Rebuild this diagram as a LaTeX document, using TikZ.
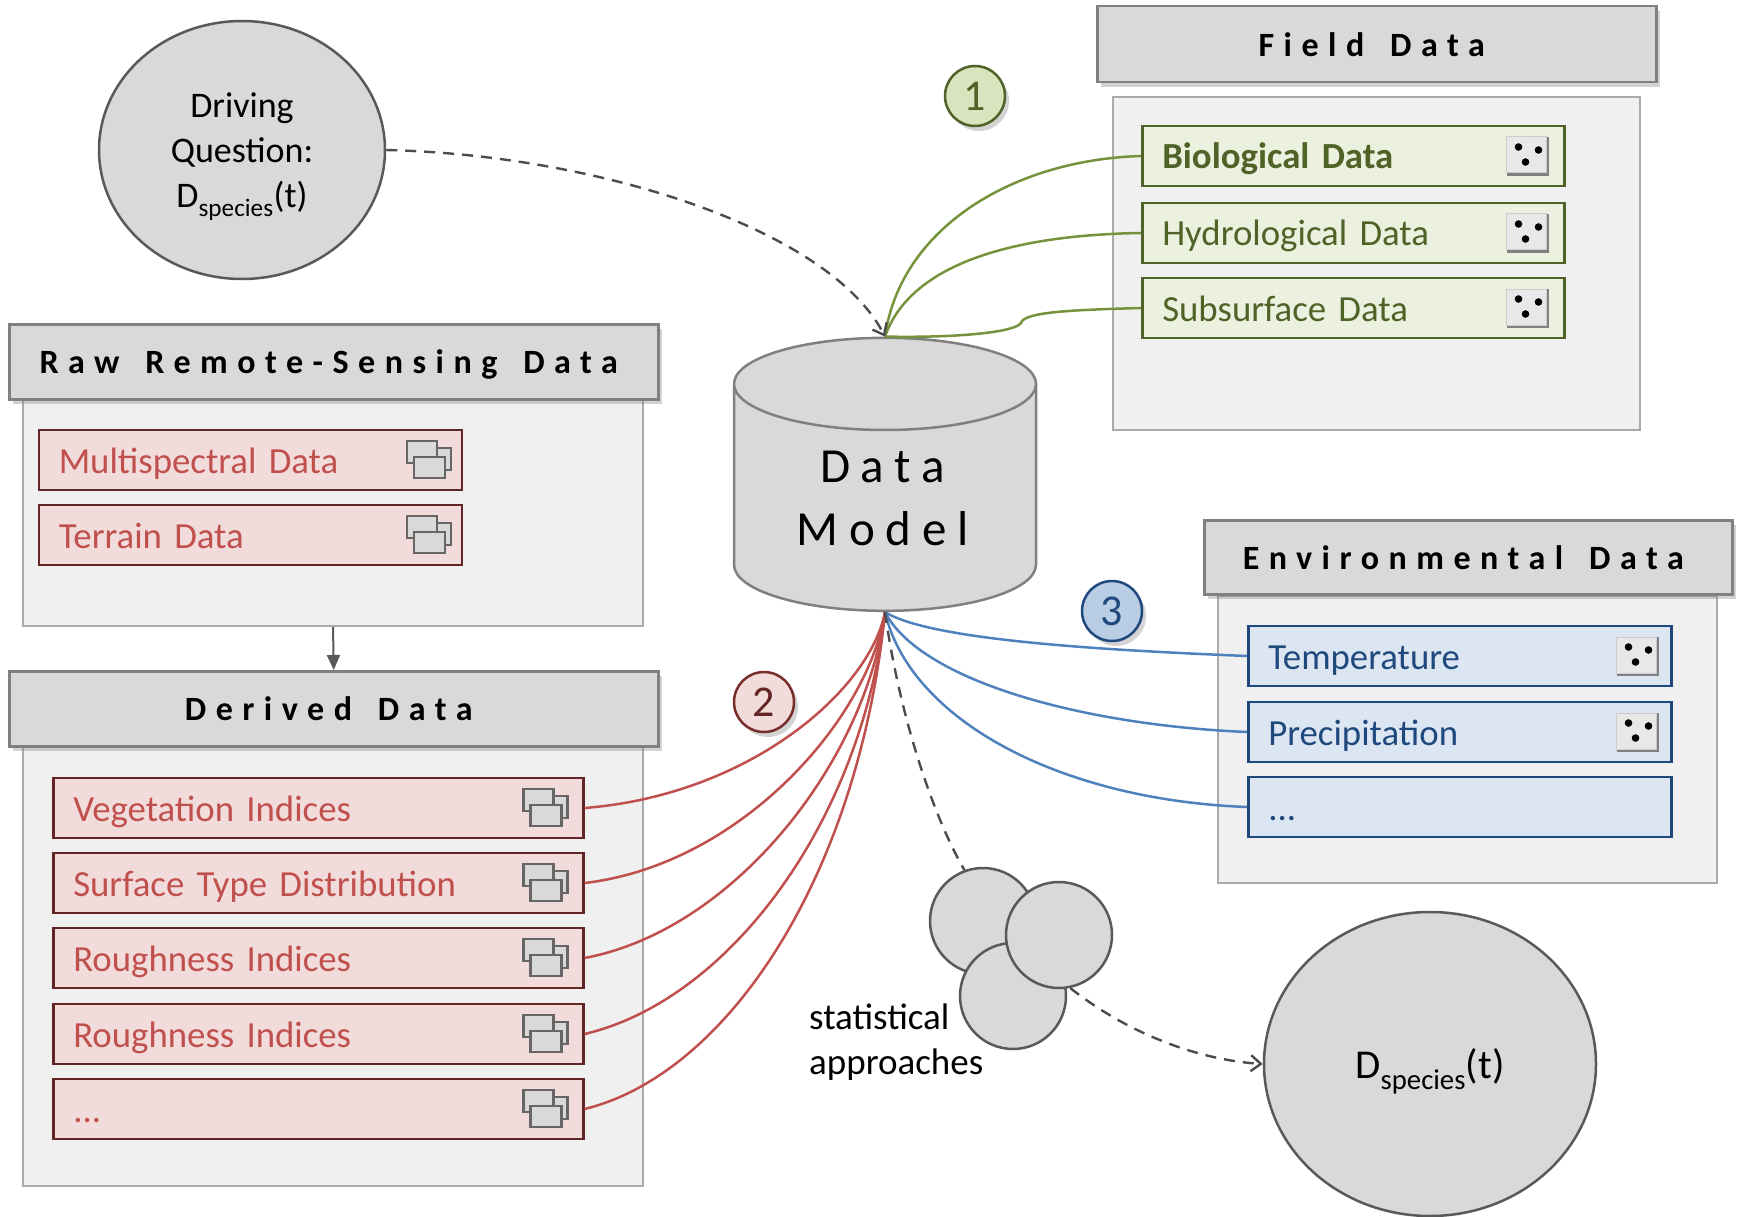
\documentclass[tikz,border=0pt]{standalone}
\usepackage{fontspec}
\setmainfont[WordSpace=0.4]{Carlito}
\newfontfamily\headfont[LetterSpace=28,WordSpace=1.5]{Carlito}
\newfontfamily\modelfont[LetterSpace=22]{Carlito}
\usepackage{tikz}
\usetikzlibrary{positioning, shapes.geometric, shadows, arrows.meta}

\definecolor{greenfill}{HTML}{EBF1DE}
\definecolor{greendark}{HTML}{4F6228}
\definecolor{greenline}{HTML}{76923C}
\definecolor{greenbadge}{HTML}{D7E4BD}
\definecolor{redfill}{HTML}{F2DCDB}
\definecolor{reddark}{HTML}{632523}
\definecolor{redline}{HTML}{C0504D}
\definecolor{bluefill}{HTML}{DCE6F2}
\definecolor{bluedark}{HTML}{1F497D}
\definecolor{blueline}{HTML}{4F81BD}
\definecolor{bluebadge}{HTML}{B9CDE5}
\definecolor{headgray}{HTML}{D9D9D9}
\definecolor{edgegray}{HTML}{595959}

\newcommand{\moredots}{...}

\tikzset{
  panel/.style={draw=black!33,fill=black!6,line width=2pt,anchor=north west},
  header/.style={draw=black!50,fill=headgray,line width=2.5pt,anchor=north west,text depth=0pt,
    drop shadow={shadow xshift=4pt,shadow yshift=-5pt,opacity=.35},
    font=\headfont\bfseries\fontsize{34}{40}\selectfont},
  item/.style={line width=2.5pt,anchor=west,minimum height=60pt,inner xsep=20pt,inner ysep=0pt,
    align=left,text height=26pt,text depth=0pt,font=\fontsize{36.8}{40}\selectfont},
  greenitem/.style={item,draw=greendark,fill=greenfill,text=greendark},
  reditem/.style={item,draw=reddark,fill=redfill,text=redline},
  blueitem/.style={item,draw=bluedark,fill=bluefill,text=bluedark},
  badge/.style={circle,line width=2.5pt,minimum size=60pt,inner sep=0pt,
    drop shadow={shadow xshift=4pt,shadow yshift=-5pt,opacity=.35},
    font=\fontsize{44}{44}\selectfont},
  bubble/.style={ellipse,draw=edgegray,fill=headgray,line width=2.5pt,inner sep=0pt,
    align=center,font=\fontsize{36}{45}\selectfont},
  stat/.style={circle,draw=edgegray,fill=headgray,line width=2.5pt,minimum size=106pt,inner sep=0pt},
  dashlink/.style={dash pattern=on 11pt off 8pt,draw=black!70,line width=2.4pt},
  link/.style={line width=2.5pt},
  stackicon/.pic={
    \draw[draw=black!60,fill=headgray,line width=2.5pt] (-6,-12) rectangle (22,10);
    \draw[draw=black!60,fill=headgray,line width=2.5pt] (-22,-19) rectangle (8,3);
    \draw[draw=black!60,fill=headgray,line width=2.5pt] (-15,-3) rectangle (16,18);
  },
  diceicon/.pic={
    \fill[black!50] (-21,-19) rectangle (21,20);
    \draw[black!20,fill=black!9,line width=1pt] (-21,-19) rectangle (19,17);
    \fill[black] (-9,-9) circle (3.8) (11,-6) circle (3.8) (-2,6) circle (3.8);
  }
}

\begin{document}
\begin{tikzpicture}[x=1pt,y=-1pt]
  \useasboundingbox (0,0) rectangle (1738,1217);

  % panels
  \node[panel,minimum width=527pt,minimum height=333pt] (fieldpanel) at (1112,96) {};
  \node[panel,minimum width=620pt,minimum height=226pt] (rawpanel) at (22,399) {};
  \node[panel,minimum width=620pt,minimum height=439pt] (derivedpanel) at (22,746) {};
  \node[panel,minimum width=499pt,minimum height=287pt] (envpanel) at (1217,595) {};

  % headers
  \node[header,minimum width=559pt,minimum height=76pt] (fieldhead) at (1096,5) {Field Data\kern10pt};
  \node[header,minimum width=649pt,minimum height=75pt] (rawhead) at (8,323) {Raw Remote-Sensing Data\kern10pt};
  \node[header,minimum width=649pt,minimum height=75pt] (derivedhead) at (8,670) {Derived Data\kern10pt};
  \node[header,minimum width=528pt,minimum height=74pt] (envhead) at (1203,519) {Environmental Data\kern10pt};

  \draw[draw=black!65,line width=2pt,-{Triangle[length=15pt,width=13pt]}] (rawpanel.south) -- (derivedhead.north);

  % field data
  \node[greenitem,text width=382pt] (bio) at (1141,156) {\bfseries Biological Data};
  \node[greenitem,text width=382pt] (hydro) at (1141,233) {Hydrological Data};
  \node[greenitem,text width=382pt] (subsurf) at (1141,308) {Subsurface Data};
  \foreach \nm in {bio,hydro,subsurf}{\pic at ([xshift=-38pt]\nm.east) {diceicon};}

  % remote sensing
  \node[reditem,text width=383pt] (multi) at (37.5,460) {Multispectral Data};
  \node[reditem,text width=383pt] (terrain) at (37.5,535) {Terrain Data};
  \foreach \nm in {multi,terrain}{\pic at ([xshift=-34pt]\nm.east) {stackicon};}

  % derived
  \foreach \nm/\yc/\txt in {veg/808/Vegetation Indices,surf/883/Surface Type Distribution,
      rougha/958/Roughness Indices,roughb/1034/Roughness Indices,dermore/1109/\moredots}{
    \node[reditem,text width=490pt] (\nm) at (52,\yc) {\txt};
    \pic at ([xshift=-39pt]\nm.east) {stackicon};
  }

  % environmental
  \foreach \nm/\yc/\txt in {temp/656/Temperature,precip/732/Precipitation,envmore/807/\moredots}{
    \node[blueitem,text width=383pt] (\nm) at (1247,\yc) {\txt};
  }
  \foreach \nm in {temp,precip}{\pic at ([xshift=-35pt]\nm.east) {diceicon};}

  % model and circles
  \node[cylinder,shape border rotate=90,aspect=0.52,draw=black!50,fill=headgray,line width=2.5pt,
    minimum width=302pt,minimum height=273pt,inner sep=0pt,align=center,
    font=\modelfont\fontsize{49}{63}\selectfont] (model) at (885,498)
    {Data\kern5pt\\Model\kern5pt};
  \node[bubble,minimum width=286pt,minimum height=258pt] (driving) at (242,150)
    {\rule{0pt}{38pt}Driving\\Question:\\D\textsubscript{species}(t)};
  \node[bubble,minimum width=332pt,minimum height=304pt,font=\fontsize{41}{45}\selectfont] (result) at (1430,1064)
    {\rule{0pt}{44pt}D\textsubscript{species}(t)};
  \node[stat] (stata) at (983,921) {};
  \node[stat] (statb) at (1013,996) {};
  \node[stat] (statc) at (1059,935) {};
  \node[align=left,anchor=north west,inner sep=0pt,font=\fontsize{37}{45}\selectfont] (statlabel) at (809,1004)
    {statistical\\approaches};

  % badges
  \node[badge,draw=greendark,fill=greenbadge,text=greendark] (one) at (975,96) {1};
  \node[badge,draw=reddark!80!redline,fill=redfill,text=reddark] (two) at (764,702) {2};
  \node[badge,draw=bluedark,fill=bluebadge,text=bluedark] (three) at (1112,611) {3};

  % links
  \draw[link,greenline] (bio.west) .. controls (1010,160) and (900,230) .. (model.top);
  \draw[link,greenline] (hydro.west) .. controls (1010,235) and (910,265) .. (model.top);
  \coordinate (subbend) at (1021,323);
  \draw[link,greenline] (subsurf.west) .. controls (1070,310) and (1024,312) .. (subbend)
    .. controls (1015,332) and (960,338) .. (model.top);

  \foreach \nm/\ca/\cb in {veg/{750,795}/{870,690},surf/{740,865}/{868,720},rougha/{735,930}/{866,760},
      roughb/{730,1000}/{862,820},dermore/{725,1075}/{858,880}}{
    \draw[link,redline] (\nm.east) .. controls (\ca) and (\cb) .. (model.bottom);
  }
  \foreach \nm/\ca/\cb in {temp/{1100,650}/{930,640},precip/{1080,725}/{920,680},envmore/{1060,800}/{910,720}}{
    \draw[link,blueline] (\nm.west) .. controls (\ca) and (\cb) .. (model.bottom);
  }

  \draw[dashlink,-{Straight Barb[length=10pt,width=16pt]}] (driving.east) .. controls (600,155) and (830,230) .. (model.top);
  \draw[dashlink] (model.bottom) .. controls (900,720) and (935,820) .. (stata.110);
  \draw[dashlink,-{Straight Barb[length=10pt,width=16pt]}] (statc.-78) .. controls (1130,1035) and (1200,1060) .. (result.west);
\end{tikzpicture}
\end{document}
